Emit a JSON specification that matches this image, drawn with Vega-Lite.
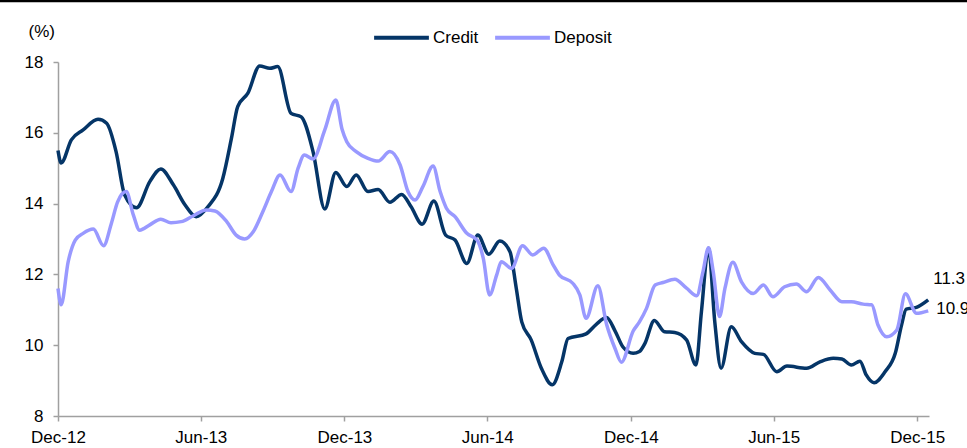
{
  "$schema": "https://vega.github.io/schema/vega-lite/v6.json",
  "width": 871,
  "height": 354,
  "autosize": "none",
  "padding": {"left": 58, "top": 62, "right": 38, "bottom": 32},
  "background": "white",
  "config": {
    "view": {"stroke": null},
    "font": "Liberation Sans",
    "axis": {
      "domainColor": "#a0a0a0",
      "domainWidth": 1.5,
      "tickColor": "#a0a0a0",
      "tickWidth": 1.5,
      "tickSize": 5,
      "grid": false,
      "labelFont": "Liberation Sans",
      "labelFontSize": 17,
      "labelColor": "black",
      "titleFont": "Liberation Sans",
      "titleFontSize": 17,
      "titleFontWeight": "normal",
      "titleColor": "black"
    }
  },
  "datasets": {
    "series": [
      {"series": "Credit", "date": "2012-12-01", "value": 15.5},
      {"series": "Credit", "date": "2012-12-05", "value": 15.15},
      {"series": "Credit", "date": "2012-12-18", "value": 15.8},
      {"series": "Credit", "date": "2013-01-02", "value": 16.08},
      {"series": "Credit", "date": "2013-01-21", "value": 16.38},
      {"series": "Credit", "date": "2013-02-01", "value": 16.27},
      {"series": "Credit", "date": "2013-02-13", "value": 15.47},
      {"series": "Credit", "date": "2013-02-24", "value": 14.24},
      {"series": "Credit", "date": "2013-03-11", "value": 13.88},
      {"series": "Credit", "date": "2013-03-28", "value": 14.62},
      {"series": "Credit", "date": "2013-04-11", "value": 14.98},
      {"series": "Credit", "date": "2013-04-27", "value": 14.53},
      {"series": "Credit", "date": "2013-05-12", "value": 13.96},
      {"series": "Credit", "date": "2013-05-26", "value": 13.63},
      {"series": "Credit", "date": "2013-06-10", "value": 13.91},
      {"series": "Credit", "date": "2013-06-29", "value": 14.71},
      {"series": "Credit", "date": "2013-07-10", "value": 15.84},
      {"series": "Credit", "date": "2013-07-18", "value": 16.74},
      {"series": "Credit", "date": "2013-07-31", "value": 17.12},
      {"series": "Credit", "date": "2013-08-15", "value": 17.89},
      {"series": "Credit", "date": "2013-08-28", "value": 17.82},
      {"series": "Credit", "date": "2013-09-07", "value": 17.87},
      {"series": "Credit", "date": "2013-09-24", "value": 16.55},
      {"series": "Credit", "date": "2013-10-07", "value": 16.45},
      {"series": "Credit", "date": "2013-10-22", "value": 15.47},
      {"series": "Credit", "date": "2013-11-06", "value": 13.85},
      {"series": "Credit", "date": "2013-11-20", "value": 14.88},
      {"series": "Credit", "date": "2013-12-04", "value": 14.48},
      {"series": "Credit", "date": "2013-12-16", "value": 14.81},
      {"series": "Credit", "date": "2013-12-31", "value": 14.34},
      {"series": "Credit", "date": "2014-01-13", "value": 14.4},
      {"series": "Credit", "date": "2014-01-28", "value": 14.04},
      {"series": "Credit", "date": "2014-02-12", "value": 14.26},
      {"series": "Credit", "date": "2014-02-24", "value": 13.91},
      {"series": "Credit", "date": "2014-03-10", "value": 13.42},
      {"series": "Credit", "date": "2014-03-25", "value": 14.07},
      {"series": "Credit", "date": "2014-04-09", "value": 13.11},
      {"series": "Credit", "date": "2014-04-21", "value": 12.97},
      {"series": "Credit", "date": "2014-05-06", "value": 12.31},
      {"series": "Credit", "date": "2014-05-20", "value": 13.11},
      {"series": "Credit", "date": "2014-06-03", "value": 12.57},
      {"series": "Credit", "date": "2014-06-17", "value": 12.94},
      {"series": "Credit", "date": "2014-06-30", "value": 12.64},
      {"series": "Credit", "date": "2014-07-08", "value": 11.61},
      {"series": "Credit", "date": "2014-07-15", "value": 10.66},
      {"series": "Credit", "date": "2014-07-27", "value": 10.15},
      {"series": "Credit", "date": "2014-08-09", "value": 9.35},
      {"series": "Credit", "date": "2014-08-23", "value": 8.88},
      {"series": "Credit", "date": "2014-09-04", "value": 9.53},
      {"series": "Credit", "date": "2014-09-12", "value": 10.19},
      {"series": "Credit", "date": "2014-10-05", "value": 10.32},
      {"series": "Credit", "date": "2014-10-18", "value": 10.59},
      {"series": "Credit", "date": "2014-10-31", "value": 10.78},
      {"series": "Credit", "date": "2014-11-11", "value": 10.4},
      {"series": "Credit", "date": "2014-11-21", "value": 9.95},
      {"series": "Credit", "date": "2014-12-04", "value": 9.77},
      {"series": "Credit", "date": "2014-12-12", "value": 9.82},
      {"series": "Credit", "date": "2014-12-19", "value": 10.05},
      {"series": "Credit", "date": "2014-12-31", "value": 10.7},
      {"series": "Credit", "date": "2015-01-13", "value": 10.38},
      {"series": "Credit", "date": "2015-01-26", "value": 10.36},
      {"series": "Credit", "date": "2015-02-10", "value": 10.15},
      {"series": "Credit", "date": "2015-02-22", "value": 9.44},
      {"series": "Credit", "date": "2015-03-01", "value": 10.95},
      {"series": "Credit", "date": "2015-03-10", "value": 12.74},
      {"series": "Credit", "date": "2015-03-18", "value": 10.66},
      {"series": "Credit", "date": "2015-03-26", "value": 9.35},
      {"series": "Credit", "date": "2015-04-08", "value": 10.52},
      {"series": "Credit", "date": "2015-04-21", "value": 10.1},
      {"series": "Credit", "date": "2015-05-08", "value": 9.77},
      {"series": "Credit", "date": "2015-05-19", "value": 9.74},
      {"series": "Credit", "date": "2015-06-05", "value": 9.25},
      {"series": "Credit", "date": "2015-06-18", "value": 9.41},
      {"series": "Credit", "date": "2015-07-13", "value": 9.35},
      {"series": "Credit", "date": "2015-07-30", "value": 9.53},
      {"series": "Credit", "date": "2015-08-16", "value": 9.63},
      {"series": "Credit", "date": "2015-08-27", "value": 9.61},
      {"series": "Credit", "date": "2015-09-08", "value": 9.44},
      {"series": "Credit", "date": "2015-09-19", "value": 9.55},
      {"series": "Credit", "date": "2015-09-27", "value": 9.16},
      {"series": "Credit", "date": "2015-10-07", "value": 8.94},
      {"series": "Credit", "date": "2015-10-21", "value": 9.25},
      {"series": "Credit", "date": "2015-11-03", "value": 9.77},
      {"series": "Credit", "date": "2015-11-11", "value": 10.57},
      {"series": "Credit", "date": "2015-11-17", "value": 11.02},
      {"series": "Credit", "date": "2015-11-30", "value": 11.07},
      {"series": "Credit", "date": "2015-12-15", "value": 11.28},
      {"series": "Deposit", "date": "2012-12-01", "value": 11.6},
      {"series": "Deposit", "date": "2012-12-05", "value": 11.14},
      {"series": "Deposit", "date": "2012-12-14", "value": 12.36},
      {"series": "Deposit", "date": "2012-12-23", "value": 12.97},
      {"series": "Deposit", "date": "2013-01-02", "value": 13.16},
      {"series": "Deposit", "date": "2013-01-15", "value": 13.28},
      {"series": "Deposit", "date": "2013-01-28", "value": 12.81},
      {"series": "Deposit", "date": "2013-02-07", "value": 13.44},
      {"series": "Deposit", "date": "2013-02-15", "value": 14.05},
      {"series": "Deposit", "date": "2013-02-26", "value": 14.34},
      {"series": "Deposit", "date": "2013-03-07", "value": 13.68},
      {"series": "Deposit", "date": "2013-03-15", "value": 13.25},
      {"series": "Deposit", "date": "2013-03-28", "value": 13.4},
      {"series": "Deposit", "date": "2013-04-11", "value": 13.56},
      {"series": "Deposit", "date": "2013-04-24", "value": 13.46},
      {"series": "Deposit", "date": "2013-05-07", "value": 13.49},
      {"series": "Deposit", "date": "2013-05-22", "value": 13.65},
      {"series": "Deposit", "date": "2013-06-08", "value": 13.82},
      {"series": "Deposit", "date": "2013-06-19", "value": 13.79},
      {"series": "Deposit", "date": "2013-07-04", "value": 13.49},
      {"series": "Deposit", "date": "2013-07-16", "value": 13.11},
      {"series": "Deposit", "date": "2013-07-27", "value": 13.0},
      {"series": "Deposit", "date": "2013-08-07", "value": 13.21},
      {"series": "Deposit", "date": "2013-08-19", "value": 13.77},
      {"series": "Deposit", "date": "2013-08-30", "value": 14.34},
      {"series": "Deposit", "date": "2013-09-10", "value": 14.81},
      {"series": "Deposit", "date": "2013-09-24", "value": 14.34},
      {"series": "Deposit", "date": "2013-10-03", "value": 15.0},
      {"series": "Deposit", "date": "2013-10-11", "value": 15.37},
      {"series": "Deposit", "date": "2013-10-22", "value": 15.26},
      {"series": "Deposit", "date": "2013-11-06", "value": 16.08},
      {"series": "Deposit", "date": "2013-11-20", "value": 16.93},
      {"series": "Deposit", "date": "2013-11-28", "value": 16.1},
      {"series": "Deposit", "date": "2013-12-04", "value": 15.75},
      {"series": "Deposit", "date": "2013-12-16", "value": 15.47},
      {"series": "Deposit", "date": "2013-12-31", "value": 15.28},
      {"series": "Deposit", "date": "2014-01-13", "value": 15.2},
      {"series": "Deposit", "date": "2014-01-28", "value": 15.47},
      {"series": "Deposit", "date": "2014-02-10", "value": 15.09},
      {"series": "Deposit", "date": "2014-02-20", "value": 14.34},
      {"series": "Deposit", "date": "2014-03-01", "value": 14.1},
      {"series": "Deposit", "date": "2014-03-11", "value": 14.48},
      {"series": "Deposit", "date": "2014-03-24", "value": 15.06},
      {"series": "Deposit", "date": "2014-04-02", "value": 14.34},
      {"series": "Deposit", "date": "2014-04-10", "value": 13.87},
      {"series": "Deposit", "date": "2014-04-21", "value": 13.63},
      {"series": "Deposit", "date": "2014-05-06", "value": 13.16},
      {"series": "Deposit", "date": "2014-05-19", "value": 12.97},
      {"series": "Deposit", "date": "2014-05-27", "value": 12.45},
      {"series": "Deposit", "date": "2014-06-04", "value": 11.42},
      {"series": "Deposit", "date": "2014-06-13", "value": 11.98},
      {"series": "Deposit", "date": "2014-06-19", "value": 12.36},
      {"series": "Deposit", "date": "2014-07-02", "value": 12.17},
      {"series": "Deposit", "date": "2014-07-16", "value": 12.81},
      {"series": "Deposit", "date": "2014-07-29", "value": 12.55},
      {"series": "Deposit", "date": "2014-08-12", "value": 12.74},
      {"series": "Deposit", "date": "2014-08-24", "value": 12.27},
      {"series": "Deposit", "date": "2014-09-01", "value": 11.98},
      {"series": "Deposit", "date": "2014-09-18", "value": 11.75},
      {"series": "Deposit", "date": "2014-09-27", "value": 11.42},
      {"series": "Deposit", "date": "2014-10-05", "value": 10.76},
      {"series": "Deposit", "date": "2014-10-20", "value": 11.68},
      {"series": "Deposit", "date": "2014-10-31", "value": 10.6},
      {"series": "Deposit", "date": "2014-11-11", "value": 9.9},
      {"series": "Deposit", "date": "2014-11-19", "value": 9.52},
      {"series": "Deposit", "date": "2014-12-04", "value": 10.4},
      {"series": "Deposit", "date": "2014-12-12", "value": 10.66},
      {"series": "Deposit", "date": "2014-12-21", "value": 11.04},
      {"series": "Deposit", "date": "2015-01-01", "value": 11.7},
      {"series": "Deposit", "date": "2015-01-11", "value": 11.77},
      {"series": "Deposit", "date": "2015-01-26", "value": 11.86},
      {"series": "Deposit", "date": "2015-02-10", "value": 11.61},
      {"series": "Deposit", "date": "2015-02-23", "value": 11.4},
      {"series": "Deposit", "date": "2015-03-03", "value": 12.08},
      {"series": "Deposit", "date": "2015-03-10", "value": 12.75},
      {"series": "Deposit", "date": "2015-03-16", "value": 12.08},
      {"series": "Deposit", "date": "2015-03-24", "value": 10.81},
      {"series": "Deposit", "date": "2015-03-31", "value": 11.61},
      {"series": "Deposit", "date": "2015-04-10", "value": 12.34},
      {"series": "Deposit", "date": "2015-04-21", "value": 11.79},
      {"series": "Deposit", "date": "2015-05-06", "value": 11.46},
      {"series": "Deposit", "date": "2015-05-19", "value": 11.7},
      {"series": "Deposit", "date": "2015-05-31", "value": 11.37},
      {"series": "Deposit", "date": "2015-06-15", "value": 11.65},
      {"series": "Deposit", "date": "2015-06-30", "value": 11.73},
      {"series": "Deposit", "date": "2015-07-13", "value": 11.51},
      {"series": "Deposit", "date": "2015-07-28", "value": 11.91},
      {"series": "Deposit", "date": "2015-08-12", "value": 11.56},
      {"series": "Deposit", "date": "2015-08-27", "value": 11.23},
      {"series": "Deposit", "date": "2015-09-08", "value": 11.23},
      {"series": "Deposit", "date": "2015-09-23", "value": 11.16},
      {"series": "Deposit", "date": "2015-10-04", "value": 11.14},
      {"series": "Deposit", "date": "2015-10-12", "value": 10.57},
      {"series": "Deposit", "date": "2015-10-23", "value": 10.24},
      {"series": "Deposit", "date": "2015-11-05", "value": 10.43},
      {"series": "Deposit", "date": "2015-11-16", "value": 11.45},
      {"series": "Deposit", "date": "2015-11-30", "value": 10.9},
      {"series": "Deposit", "date": "2015-12-15", "value": 10.97}
    ]
  },
  "layer": [
    {
      "data": {"values": [{}]},
      "mark": {"type": "rule", "color": "black", "strokeWidth": 2.5},
      "encoding": {
        "y": {"datum": 19.72, "type": "quantitative"},
        "x": {"datum": {"year": 2012, "month": 9, "date": 10, "utc": true}, "type": "temporal"},
        "x2": {"datum": {"year": 2016, "month": 2, "date": 10, "utc": true}}
      }
    },
    {
      "data": {"name": "series"},
      "mark": {"type": "line", "interpolate": "monotone", "strokeWidth": 3.5},
      "encoding": {
        "x": {
          "field": "date",
          "type": "temporal",
          "scale": {
            "type": "utc",
            "domain": [
              {"year": 2012, "month": 12, "date": 1, "utc": true},
              {"year": 2015, "month": 12, "date": 16, "utc": true}
            ]
          },
          "axis": {
            "title": null,
            "format": "%b-%y",
            "labelPadding": 8,
            "labelFlush": false,
            "labelOverlap": false,
            "values": [
              {"year": 2012, "month": 12, "date": 1, "utc": true},
              {"year": 2013, "month": 6, "date": 1, "utc": true},
              {"year": 2013, "month": 12, "date": 1, "utc": true},
              {"year": 2014, "month": 6, "date": 1, "utc": true},
              {"year": 2014, "month": 12, "date": 1, "utc": true},
              {"year": 2015, "month": 6, "date": 1, "utc": true},
              {"year": 2015, "month": 12, "date": 1, "utc": true}
            ]
          }
        },
        "y": {
          "field": "value",
          "type": "quantitative",
          "scale": {"domain": [8, 18], "nice": false, "zero": false},
          "axis": {
            "title": "(%)",
            "titleAngle": 0,
            "titleAlign": "left",
            "titleBaseline": "alphabetic",
            "titleX": -30,
            "titleY": -26,
            "values": [8, 10, 12, 14, 16, 18],
            "labelPadding": 10
          }
        },
        "color": {
          "field": "series",
          "type": "nominal",
          "scale": {"domain": ["Credit", "Deposit"], "range": ["#053567", "#9999ff"]},
          "legend": {
            "title": null,
            "orient": "none",
            "direction": "horizontal",
            "legendX": 314,
            "legendY": -54,
            "symbolType": "stroke",
            "symbolSize": 3000,
            "symbolStrokeWidth": 4,
            "labelFont": "Liberation Sans",
            "labelFontSize": 17,
            "labelColor": "black",
            "labelOffset": 2,
            "columnPadding": 8
          }
        }
      }
    },
    {
      "data": {"values": [{"date": "2015-12-15", "value": 11.28, "label": "11.3"}]},
      "mark": {"type": "text", "align": "left", "baseline": "middle", "dx": 5, "dy": -21, "fontSize": 17, "font": "Liberation Sans", "color": "black"},
      "encoding": {
        "x": {"field": "date", "type": "temporal"},
        "y": {"field": "value", "type": "quantitative"},
        "text": {"field": "label"}
      }
    },
    {
      "data": {"values": [{"date": "2015-12-15", "value": 10.97, "label": "10.9"}]},
      "mark": {"type": "text", "align": "left", "baseline": "middle", "dx": 8, "dy": -2, "fontSize": 17, "font": "Liberation Sans", "color": "black"},
      "encoding": {
        "x": {"field": "date", "type": "temporal"},
        "y": {"field": "value", "type": "quantitative"},
        "text": {"field": "label"}
      }
    }
  ]
}
